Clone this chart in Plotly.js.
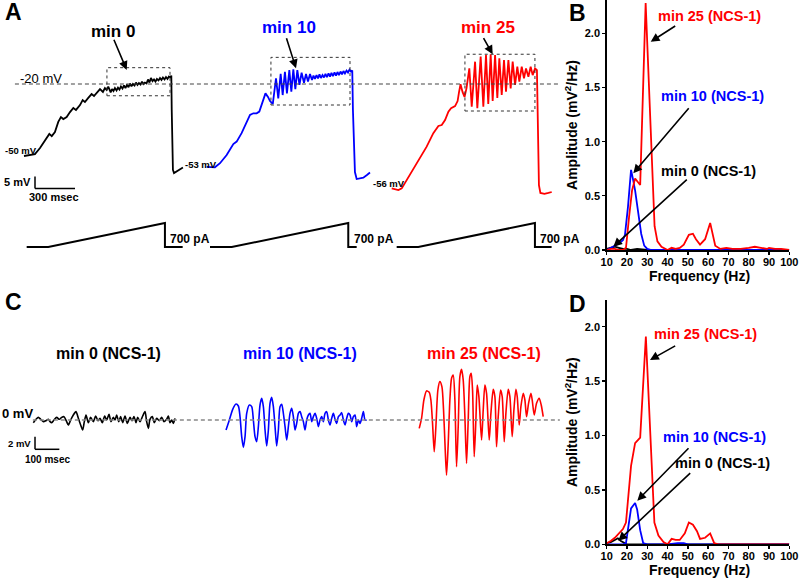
<!DOCTYPE html>
<html><head><meta charset="utf-8">
<script src="https://cdn.plot.ly/plotly-3.0.1.min.js"></script>
<style>body{margin:0;background:#fff}#chart{width:800px;height:578px}</style>
</head><body><div id="chart"></div>
<script>
// ---------- Panel A : ramp-evoked voltage traces (time ms from trace start, mV) ----------
const aBlackT = [0,82,120,150,172,190,208,232,257,277,295,320,345,370,390,420,440,457,482,507,525,550,570,592,607,620,632,650,660,671,
  682,694,705,716,727,739,750,761,772,784,795,806,817,829,840,851,862,874,885,896,907,919,930,941,952,964,975,986,997,1009,1020,1031,1042,1054,1065,1076,1087,1099,1105,
  1108,1112,1117,1125,1140,1162,1192];
const aBlackV = [-50,-49.2,-46.7,-44.2,-42.1,-40.8,-41.7,-40,-35.8,-33.8,-34.6,-33.8,-31.7,-30,-30.8,-28.8,-26.7,-27.5,-25.8,-24.2,-25,-23.3,-22.1,-23.3,-21.7,-22.5,-21.1,-23.5,-22.1,-22.9,
  -21.7,-22.7,-21.5,-22.3,-21.0,-21.9,-20.6,-21.7,-20.4,-21.3,-19.8,-21.0,-20.0,-20.6,-19.4,-20.4,-19.6,-20.2,-19.0,-20.0,-19.4,-19.8,-18.1,-19.4,-17.5,-18.8,-18.1,-19.0,-17.9,-18.5,-17.5,-18.3,-17.3,-18.1,-17.1,-17.9,-16.9,-17.3,-16.5,
  -30.8,-47.5,-55.8,-57.1,-56.7,-55.8,-54.8];
const aBlueT = [0,62,100,150,200,225,262,300,325,350,375,395,412,430,441,460,475,496,520,537,555,570,587,602,620,635,650,665,680,696,712,730,745,760,775,790,801,812,824,835,846,857,869,880,891,902,914,925,936,947,959,970,981,992,1004,1015,1026,1037,1049,1060,1071,1082,1092,1097,1105,1112,1125,1150,1175,1202,1225];
const aBlueV = [-54.5,-54.7,-53.0,-49.6,-45,-44,-40.5,-35.7,-32.9,-32.2,-32.2,-31.5,-28.8,-25.3,-23.9,-25.4,-27.1,-28.3,-17.6,-26.0,-15.8,-24.6,-14.9,-23.9,-14.2,-23.2,-13.9,-22.2,-14.2,-20.4,-15.3,-19.5,-15.8,-19.0,-15.8,-18.3,-16.5,-17.9,-16.3,-17.7,-16.0,-17.5,-16.3,-17.3,-15.8,-17.1,-15.6,-16.9,-15.4,-16.7,-15.2,-16.5,-15.0,-16.3,-14.8,-16.0,-14.6,-15.6,-14.4,-15.2,-14.0,-14.8,-14.4,-30.8,-47.5,-56.7,-59.6,-59.4,-59.0,-57.9,-56.9];
const aRedT = [0,50,75,112,162,212,262,312,350,375,400,425,445,475,494,505,516,531,546,561,582,600,625,642,667,687,707,724,742,757,775,792,807,825,842,857,875,892,907,925,942,957,975,992,1007,1025,1042,1057,1075,1089,1093,1098,1104,1115,1145,1175,1200];
const aRedV = [-63.5,-64.2,-63.5,-60,-55.8,-51,-46.1,-40.5,-37.5,-37.1,-35,-31.5,-30.1,-29.2,-27.1,-23.3,-20.1,-23.3,-25.4,-21.7,-13.5,-29.5,-10.7,-30.1,-8.6,-29.5,-7.9,-28.3,-7.6,-27.1,-7.9,-25.8,-9.3,-24.6,-10,-23.2,-10,-21.8,-10.7,-20.4,-12.8,-19,-12.8,-17.6,-13.5,-17,-12.8,-16.3,-13.5,-14.2,-30.8,-51.7,-62.1,-65.4,-65.8,-65.4,-65];
// injected current ramps (ms, pA)
const curBlackT = [0,162,1037,1037,1170];
const curBlueT  = [0,163,1037,1037,1100];
const curRedT   = [0,162,1037,1037,1162];
const curPA     = [0,0,700,0,0];

// ---------- Panel C : filtered oscillations (ms, mV) ----------
const cBlackT = [0,11,20.6,30.1,41.1,52.1,61.7,68.5,75.4,84.9,95.9,106.9,116.5,126,137,143.9,153.4,164.4,175.4,185,194.5,202.8,209.6,216.5,226,235.6,246.6,256.2,265.8,274,283.6,293.2,301.4,311,319.2,328.8,335.7,342.5,350.7,358.9,367.2,376.8,386.3,397.3,405.5,413.7,422,428.8,438.4,449.4,459,465.8,472.7,479.5,489.1,497.3,506.9,517.9,527.5,537,548,554.9,561.7,568.6,575.4,582.3];
const cBlackV = [-0.42,0.11,0.42,0.11,-0.26,-0.11,0.11,-0.26,-0.42,0,0.42,0.11,0.42,0.53,-0.26,-0.79,0,0.79,1.32,0.26,-0.79,-1.58,-0.26,0.79,-0.42,0.42,-0.26,0.63,-0.11,0.26,-0.42,0.63,0,0.9,-0.26,0.42,0,0.79,-0.26,0.53,-0.42,0.63,-0.53,0.42,-0.11,0.53,-0.42,0.42,-0.26,0.63,1.32,-0.26,-1.32,0.11,0.53,-0.42,0.26,-0.11,0.42,-0.26,0.11,0.63,-0.42,0,-0.53,0.26];
const cBlueT = [0,13.7,27.4,41.1,50.7,57.5,64.4,71.2,78.1,84.9,95.9,105.5,112.3,119.2,126,132.9,139.7,146.6,153.4,160.3,167.1,174,180.8,187.7,194.5,201.4,208.2,215.1,221.9,228.8,235.6,242.5,249.3,256.2,263,269.9,276.7,283.6,290.4,297.3,304.1,311,317.8,324.7,331.5,338.4,345.2,352.1,358.9,365.8,372.6,379.5,386.3,393.2,400,406.9,413.7,420.6,427.4,434.3,441.1,448,454.8,461.7,468.5,475.4,482.2,489.1,495.9,502.8,509.6,516.5,523.3,530.2,537,543.9,550.7,557.6,564.4,571.3,578.1];
const cBlueV = [-1.58,0,1.69,2.53,2.21,0.53,-2.63,-4.32,-2.63,1.05,2.37,2.11,0,-2.63,-3.42,-1.05,2.37,3.42,2.11,-1.58,-4.11,-1.58,2.63,3.58,2.11,-1.05,-4.11,-1.58,2.11,2.48,1.05,-1.05,-3.16,-1.05,1.05,1.84,0.53,-1.58,-0.53,1.05,1.32,0.53,-0.26,-1.58,0,0.79,1.05,-0.26,0.53,1.05,0.26,-1.05,0,0.53,-0.26,1.05,1.32,0,-0.79,0.26,1.05,0.11,-0.53,0.53,0.79,1.16,0,-0.79,0.26,1.05,0.79,-0.26,0.53,0.79,-1.05,0,-0.53,0.26,1.32,0,0];
const cRedT = [0,9.6,19.2,30.1,41.1,48,54.8,61.7,68.5,76.7,84.9,93.2,100,106.9,112.3,119.2,126,132.9,139.7,146.6,153.4,160.3,167.1,174,180.8,187.7,194.5,201.4,208.2,213.7,219.2,226,232.9,238.4,245.2,256.2,263,269.9,276.7,287.7,294.6,304.1,311,317.8,324.7,334.3,341.1,349.4,356.2,365.8,372.6,382.2,389.1,397.3,402.8,411,417.9,427.4,434.3,441.1,449.4,459,464.4,472.7,482.2,493.2,501.4,509.6];
const cRedV = [-1.32,0.26,3.16,4.59,4.37,3.16,-0.53,-5.01,-1.05,4.74,6.06,5.27,1.58,-4.74,-8.7,-3.69,3.16,6.59,7.11,3.16,-7.38,-1.05,6.85,8.01,6.32,0.53,-6.85,0,6.85,7.38,4.74,-5.8,0,5.53,3.69,-3.16,1.58,5.53,4.22,-3.16,1.05,4.85,3.69,-4.22,0.53,4.74,3.69,-3.43,1.05,4.85,3.69,-2.63,1.58,4.85,3.69,-0.79,2.11,4.22,3.16,0.53,2.63,4.22,3.16,0.79,2.63,3.43,2.37,0.53];

// ---------- Panel B : spectra of ramp responses (Hz, mV^2/Hz) ----------
const bRedF = [10,12,14,16,18,19.5,21,22.5,24,26.5,29.2,33.6,35,37,40,42,44,46,48,50.5,52.5,54,56,58.5,61,63.5,66,69,72,76,80,83,86,89,90,93,96,100];
const bRedA = [0,0.01,0.01,0,0,0.02,0.3,0.55,0.66,0.6,2.28,0.22,0.08,0.03,0,0.02,0.01,0.02,0.05,0.14,0.15,0.1,0.05,0.1,0.25,0.04,0.01,0.02,0.01,0.01,0.02,0.03,0.02,0.01,0.02,0.01,0.01,0];
const bBlueF = [10,12,14,16,18,19,20.5,22,23,24,25.5,27,28.5,30,32,40,50,60,70,80,90,100];
const bBlueA = [0,0.02,0.04,0.06,0.09,0.14,0.4,0.74,0.65,0.55,0.35,0.15,0.04,0.01,0,0,0,0,0,0,0,0];
const bBlackF = [10,12,14,16,18,20,22,25,30,40,50,60,70,80,90,100];
const bBlackA = [0.01,0.02,0.03,0.02,0.01,0.01,0,0.01,0,0,0,0,0,0,0,0];

// ---------- Panel D : spectra of filtered oscillations ----------
const dRedF = [10,12,14,16,18,19.5,21,22,24,26.5,29.3,31,33.5,35.5,38,40,42,44,46,48.5,50.5,52.5,54.5,56,58.5,61,63,65,70,80,90,100];
const dRedA = [0.01,0.03,0.06,0.1,0.14,0.2,0.55,0.72,0.93,0.98,1.91,1.2,0.2,0.08,0.02,0,0.05,0.04,0.04,0.1,0.2,0.18,0.12,0.05,0.06,0.1,0.01,0,0,0,0,0];
const dBlueF = [10,14,18,19.5,20.7,22,24,25,26.5,28,30,40,45,48,50,60,70,80,90,100];
const dBlueA = [0,0,0,0.01,0.19,0.33,0.38,0.32,0.13,0.01,0,0,0.01,0.01,0,0,0,0,0,0];
const dBlackF = [10,12,14,15.5,17,19,20,30,40,50,60,70,80,90,100];
const dBlackA = [0.01,0.02,0.04,0.055,0.03,0.01,0,0,0,0,0,0,0,0,0];

const freqTicks = [10,20,30,40,50,60,70,80,90,100];
const ampTicks = [0, 0.5, 1, 1.5, 2];
const ampTickText = ['0.0', '0.5', '1.0', '1.5', '2.0'];

// ---------- layout helpers ----------
const W = 800, H = 578;
const px = x => x / W, py = y => 1 - y / H;
const BLACK = '#000000', BLUE = '#0000ff', RED = '#ff0000';
const FONT = 'Liberation Sans, Arial, sans-serif';
const shift = (arr, off) => arr.map(v => v + off);

// trace placement offsets (ms) inside panel A / C strips
const offA = [180, 1550, 2938], offI = [200, 1575, 2975], offC = [137, 929, 1723];

const traces = [];
function line(x, y, xa, ya, color, width, shape) {
  traces.push({x, y, xaxis: xa, yaxis: ya, type: 'scatter', mode: 'lines',
    line: {color, width, shape: shape || 'linear', smoothing: 0.7}, hoverinfo: 'skip', showlegend: false});
}
// Panel A
line(shift(aBlackT, offA[0]), aBlackV, 'x3', 'y3', BLACK, 1.8);
line(shift(aBlueT, offA[1]), aBlueV, 'x3', 'y3', BLUE, 1.8);
line(shift(aRedT, offA[2]), aRedV, 'x3', 'y3', RED, 1.8);
line(shift(curBlackT, offI[0]), curPA, 'x3', 'y4', BLACK, 2);
line(shift(curBlueT, offI[1]), curPA, 'x3', 'y4', BLACK, 2);
line(shift(curRedT, offI[2]), curPA, 'x3', 'y4', BLACK, 2);
// Panel C
line(shift(cBlackT, offC[0]), cBlackV, 'x5', 'y5', BLACK, 1.6, 'spline');
line(shift(cBlueT, offC[1]), cBlueV, 'x5', 'y5', BLUE, 1.6, 'spline');
line(shift(cRedT, offC[2]), cRedV, 'x5', 'y5', RED, 1.6, 'spline');
// Panel B
line(bBlackF, bBlackA, 'x', 'y', BLACK, 1.8);
line(bBlueF, bBlueA, 'x', 'y', BLUE, 1.8);
line(bRedF, bRedA, 'x', 'y', RED, 1.8);
// Panel D
line(dBlackF, dBlackA, 'x2', 'y2', BLACK, 1.8);
line(dBlueF, dBlueA, 'x2', 'y2', BLUE, 1.8);
line(dRedF, dRedA, 'x2', 'y2', RED, 1.8);

const tickFont = {family: FONT, size: 11, color: '#000', weight: 'bold'};
function freqAxis(anchor) {
  return {domain: [px(606.7), px(789.3)], range: [10, 100], anchor,
    tickvals: freqTicks, ticks: 'outside', ticklen: 3, tickwidth: 1.3, tickcolor: '#000',
    showline: true, linewidth: 1.5, linecolor: '#000', showgrid: false, zeroline: false,
    tickfont: tickFont, ticklabelstandoff: -2, fixedrange: true};
}
function ampAxis(anchor, dom, top) {
  return {domain: dom, range: [0, top], anchor,
    tickvals: ampTicks, ticktext: ampTickText,
    ticks: 'outside', ticklen: 3, tickwidth: 1.3, tickcolor: '#000',
    showline: true, linewidth: 1.5, linecolor: '#000', showgrid: false, zeroline: false,
    tickfont: tickFont, fixedrange: true,
    title: {text: 'Amplitude (mV<sup>2</sup>/Hz)', font: {family: FONT, size: 14, color: '#000', weight: 'bold'}, standoff: 4}};
}
const hidden = (dom, range, extra) => Object.assign({domain: dom, range, visible: false, fixedrange: true, showgrid: false, zeroline: false}, extra || {});

const annotations = [];
function lab(text, x, y, size, color, opts) {
  annotations.push(Object.assign({text, x: px(x), y: py(y), xref: 'paper', yref: 'paper', showarrow: false,
    xanchor: 'center', yanchor: 'middle', font: {family: FONT, size, color}}, opts || {}));
}
function arrow(tx, ty, hx, hy) {
  annotations.push({text: '', x: px(hx), y: py(hy), xref: 'paper', yref: 'paper', showarrow: true,
    ax: tx - hx, ay: ty - hy, axref: 'pixel', ayref: 'pixel', arrowhead: 2, arrowsize: 1.1, arrowwidth: 1.6,
    arrowcolor: '#000', standoff: 0, startstandoff: 0});
}
// panel letters
lab('<b>A</b>', 3, 12, 23, BLACK, {xanchor: 'left'});
lab('<b>B</b>', 567, 12.5, 23, BLACK, {xanchor: 'left'});
lab('<b>C</b>', 3, 302, 23, BLACK, {xanchor: 'left'});
lab('<b>D</b>', 567, 304, 23, BLACK, {xanchor: 'left'});
// panel A labels
lab('<b>min 0</b>', 113.3, 31, 17, BLACK);
lab('<b>min 10</b>', 289, 27.5, 17, BLUE);
lab('<b>min 25</b>', 488, 27.5, 17, RED);
arrow(113.3, 38.3, 126.7, 70);
arrow(286, 36.7, 296, 68.3);
arrow(482.7, 36.7, 492.7, 54.3);
lab('-20 mV', 18.3, 78, 13, BLACK, {xanchor: 'left'});
lab('<b>-50 mV</b>', 3, 150, 9.5, BLACK, {xanchor: 'left'});
lab('<b>-53 mV</b>', 183, 164, 9.5, BLACK, {xanchor: 'left'});
lab('<b>-56 mV</b>', 371, 183, 9.5, BLACK, {xanchor: 'left'});
lab('<b>5 mV</b>', 33, 181.5, 11, BLACK, {xanchor: 'right'});
lab('<b>300 msec</b>', 54, 196.7, 11, BLACK);
lab('<b>700 pA</b>', 168.3, 239, 12, BLACK, {xanchor: 'left'});
lab('<b>700 pA</b>', 351.7, 239, 12, BLACK, {xanchor: 'left'});
lab('<b>700 pA</b>', 538.3, 239, 12, BLACK, {xanchor: 'left'});
// panel C labels
lab('<b>min 0 (NCS-1)</b>', 108, 354, 16, BLACK);
lab('<b>min 10 (NCS-1)</b>', 300, 354, 16, BLUE);
lab('<b>min 25 (NCS-1)</b>', 484, 354, 16, RED);
lab('<b>0 mV</b>', 0, 413, 13, BLACK, {xanchor: 'left'});
lab('<b>2 mV</b>', 33, 443, 9.5, BLACK, {xanchor: 'right'});
lab('<b>100 msec</b>', 47, 459, 10, BLACK);
// panel B labels + x-axis title
lab('<b>min 25 (NCS-1)</b>', 709, 16, 14.5, RED);
lab('<b>min 10 (NCS-1)</b>', 712.5, 96, 14.5, BLUE);
lab('<b>min 0 (NCS-1)</b>', 708, 171, 14.5, BLACK);
arrow(676.7, 25, 650.7, 41.7);
arrow(690, 106.7, 633.3, 173.3);
arrow(688.3, 178.3, 613.3, 246.7);
lab('<b>Frequency (Hz)</b>', 699, 276, 14, BLACK);
// panel D labels + x-axis title
lab('<b>min 25 (NCS-1)</b>', 705, 334, 14.5, RED);
lab('<b>min 10 (NCS-1)</b>', 714, 437, 14.5, BLUE);
lab('<b>min 0 (NCS-1)</b>', 722.5, 463, 14.5, BLACK);
arrow(676.7, 345, 650, 360);
arrow(690, 446.7, 637.3, 500.7);
arrow(691.7, 471.7, 618.3, 540.7);
lab('<b>Frequency (Hz)</b>', 699, 569.5, 14, BLACK);

// shapes: reference lines, boxes, scale bars
const dotted = {color: '#333', width: 1, dash: 'dot'};
const shapes = [
  {type: 'line', xref: 'x3', yref: 'y3', x0: 112, x1: 4200, y0: -20, y1: -20, line: {color: '#444', width: 1.2, dash: '4px,3px'}},
  {type: 'rect', xref: 'x3', yref: 'y3', x0: 802, x1: 1275, y0: -24.9, y1: -13.2, line: dotted},
  {type: 'rect', xref: 'x3', yref: 'y3', x0: 2032, x1: 2625, y0: -28.75, y1: -8.9, line: dotted},
  {type: 'rect', xref: 'x3', yref: 'y3', x0: 3487, x1: 4012, y0: -31.25, y1: -7.6, line: dotted},
  // A scale bar: 5 mV / 300 ms
  {type: 'line', xref: 'x3', yref: 'y3', x0: 262.5, x1: 262.5, y0: -63.5, y1: -58.5, line: {color: '#000', width: 1.5}},
  {type: 'line', xref: 'x3', yref: 'y3', x0: 262.5, x1: 562.5, y0: -63.5, y1: -63.5, line: {color: '#000', width: 1.5}},
  // C reference line and scale bar: 2 mV / 100 ms
  {type: 'line', xref: 'x5', yref: 'y5', x0: 135, x1: 2301, y0: 0, y1: 0, line: {color: '#888', width: 1.5, dash: '4px,3px'}},
  {type: 'line', xref: 'x5', yref: 'y5', x0: 143.9, x1: 143.9, y0: -4.63, y1: -2.63, line: {color: '#000', width: 1.5}},
  {type: 'line', xref: 'x5', yref: 'y5', x0: 143.9, x1: 243.9, y0: -4.63, y1: -4.63, line: {color: '#000', width: 1.5}}
];

const layout = {
  width: W, height: H, margin: {l: 0, r: 0, t: 0, b: 0},
  paper_bgcolor: '#fff', plot_bgcolor: 'rgba(0,0,0,0)', showlegend: false,
  font: {family: FONT, color: '#000'},
  xaxis: freqAxis('y'),
  yaxis: ampAxis('x', [py(250), py(0)], 2.308),
  xaxis2: freqAxis('y2'),
  yaxis2: ampAxis('x2', [py(544.3), py(300)], 2.245),
  xaxis3: hidden([0, px(560)], [0, 4200], {anchor: 'y3'}),
  yaxis3: hidden([py(260), 1], [-93.33, 15], {anchor: 'x3'}),
  yaxis4: hidden([py(260), 1], [-379, 7204], {anchor: 'x3', overlaying: 'y3'}),
  xaxis5: hidden([0, px(560)], [0, 2301.6], {anchor: 'y5'}),
  yaxis5: hidden([py(520), py(290)], [-15.8, 20.54], {anchor: 'x5'}),
  annotations, shapes
};
Plotly.newPlot('chart', traces, layout, {displayModeBar: false, staticPlot: true});
</script>
</body></html>
